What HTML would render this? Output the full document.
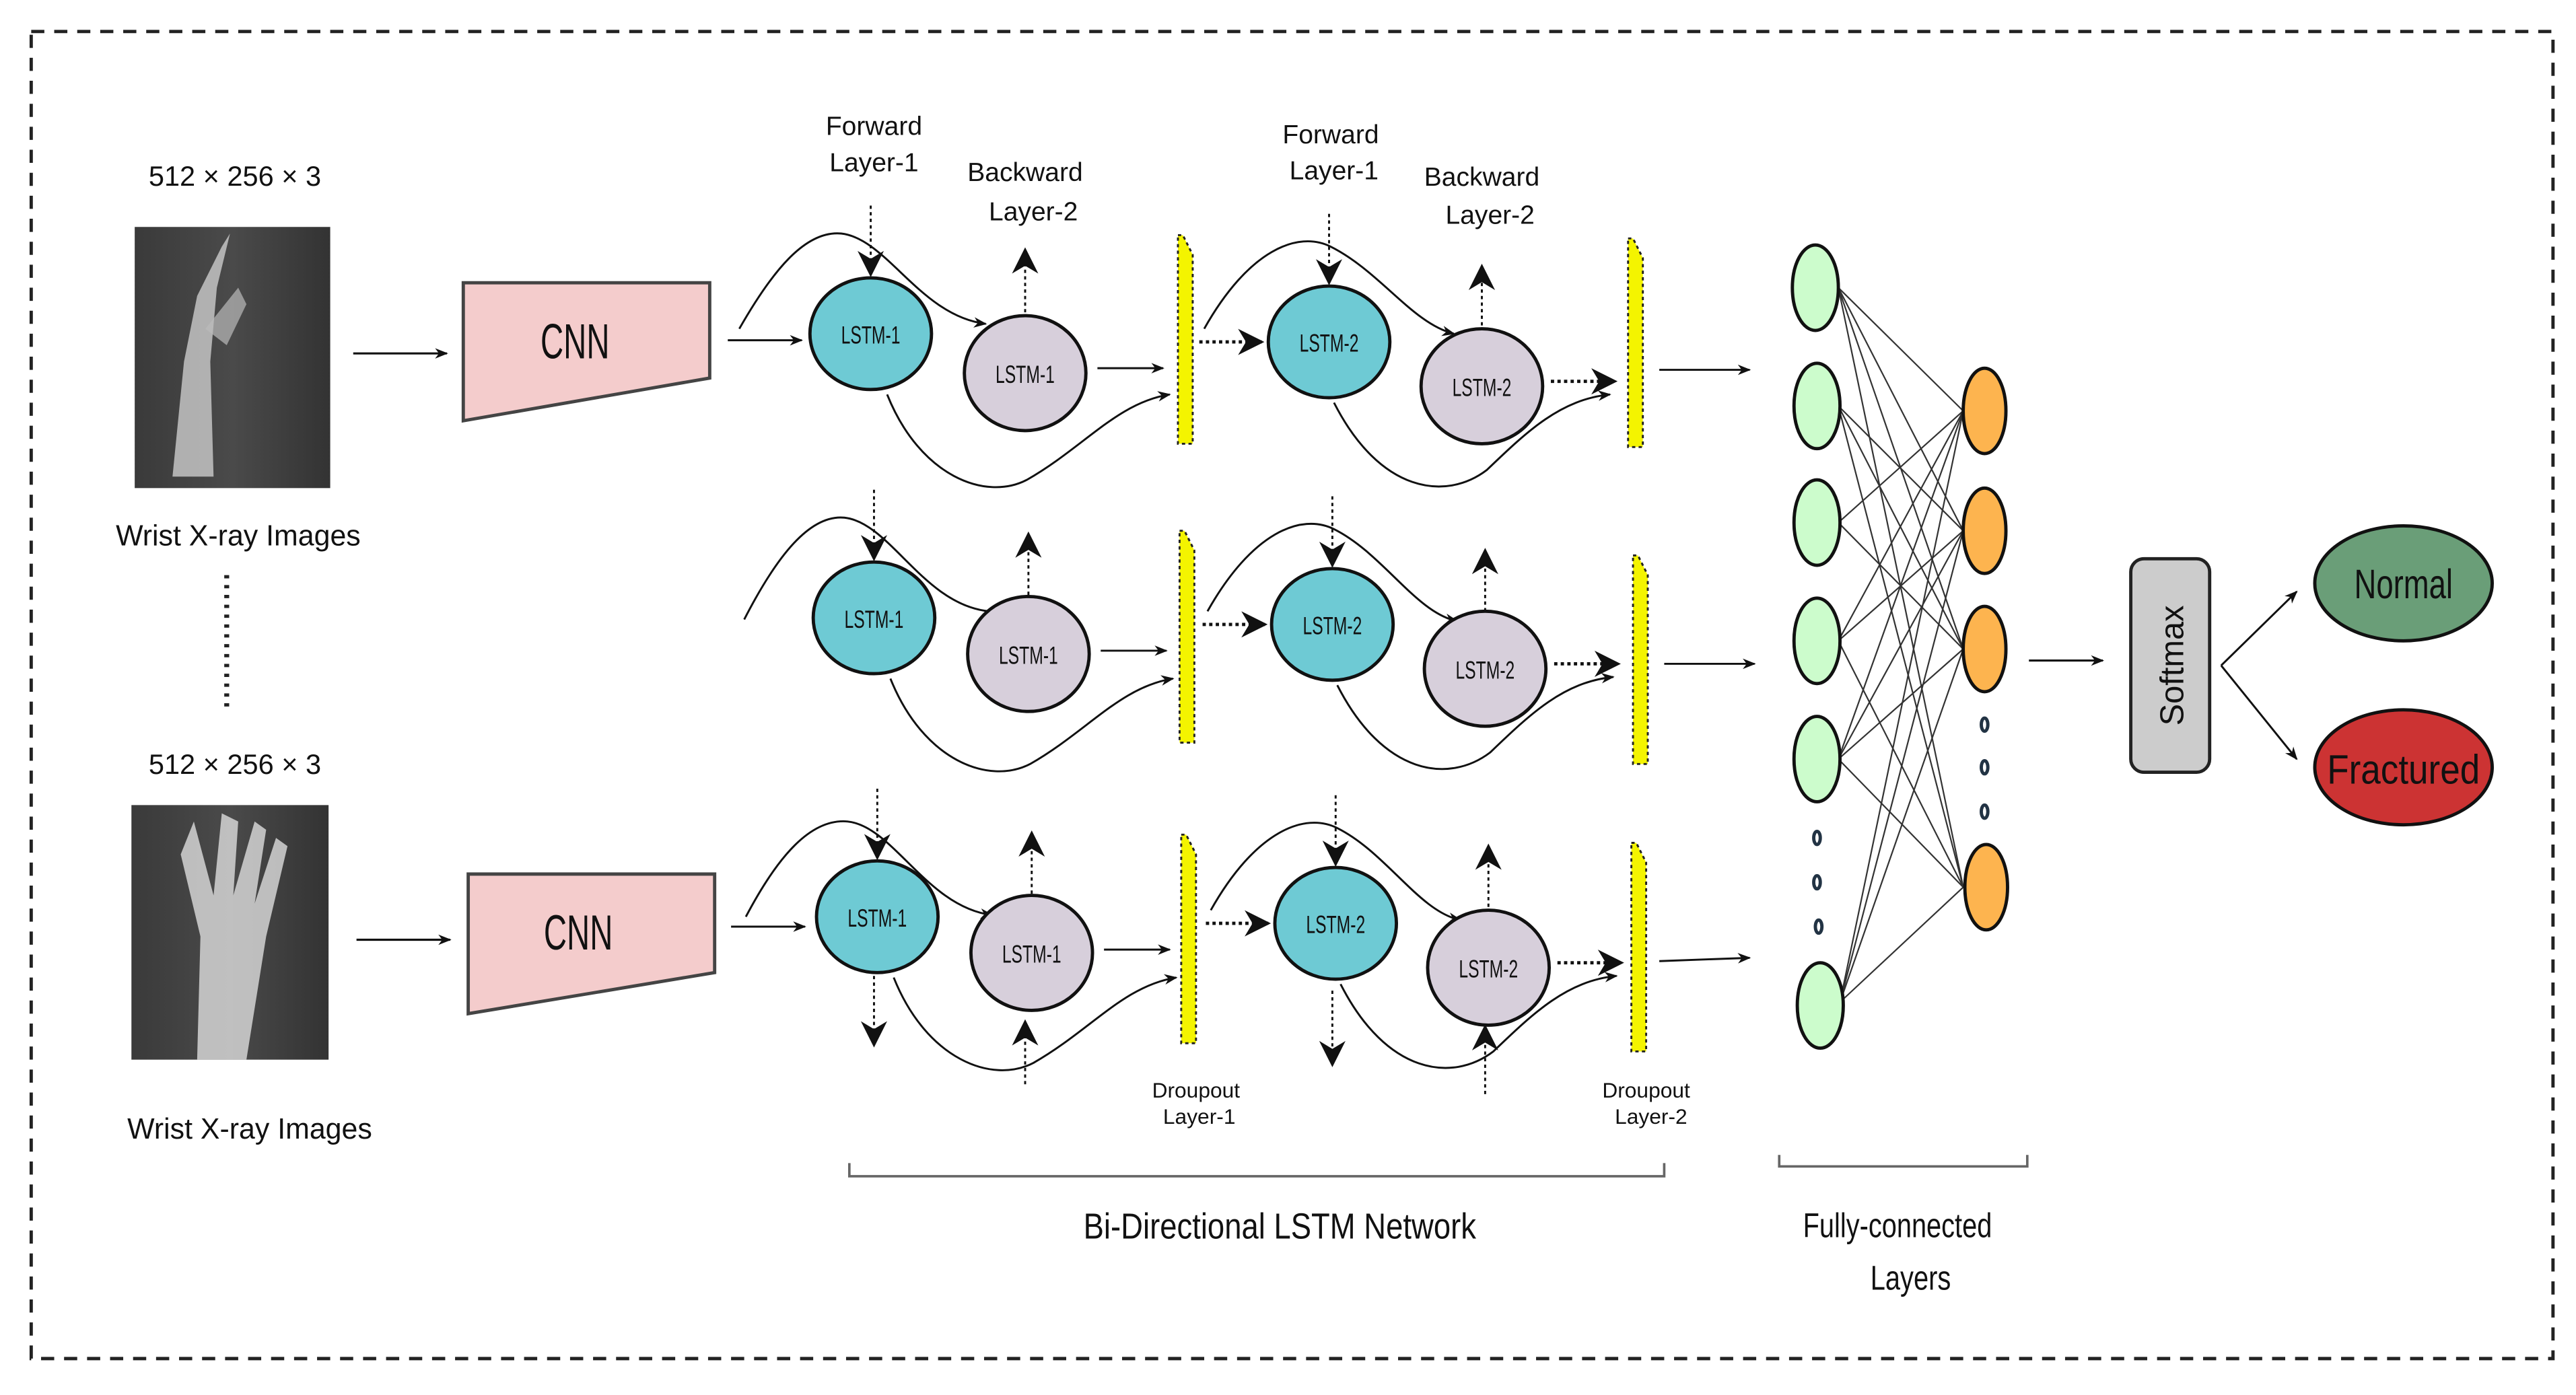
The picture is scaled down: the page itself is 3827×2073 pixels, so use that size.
<!DOCTYPE html>
<html><head><meta charset="utf-8"><style>
html,body{margin:0;padding:0;background:#fff;}
svg{display:block;}
text{font-family:"Liberation Sans",sans-serif;fill:#111;}
</style></head><body>
<svg width="3827" height="2073" viewBox="0 0 1568 849" xmlns="http://www.w3.org/2000/svg">
<defs>
<marker id="a" viewBox="0 0 10 10" refX="9" refY="5" markerWidth="8" markerHeight="8" markerUnits="userSpaceOnUse" orient="auto"><path d="M0,1 L10,5 L0,9 L3,5z" fill="#111"/></marker>
<marker id="b" viewBox="0 0 10 10" refX="9" refY="5" markerWidth="18" markerHeight="16" markerUnits="userSpaceOnUse" orient="auto"><path d="M0,0 L10,5 L0,10 L3,5z" fill="#111"/></marker>
<linearGradient id="xr" x1="0" x2="1"><stop offset="0" stop-color="#3a3a3a"/><stop offset="0.5" stop-color="#4a4a4a"/><stop offset="1" stop-color="#333"/></linearGradient>
</defs>
<rect x="19" y="19" width="1535" height="808" fill="none" stroke="#222" stroke-width="2" stroke-dasharray="8,6"/>

<!-- left column -->
<text x="143" y="113" font-size="17" text-anchor="middle" textLength="105" lengthAdjust="spacingAndGlyphs">512 × 256 × 3</text>
<rect x="82" y="138" width="119" height="159" fill="url(#xr)"/>
<path d="M105,290 L112,220 L120,180 L135,150 L140,142 L132,175 L128,220 L130,290" fill="#ccc" opacity="0.8"/>
<path d="M125,200 L145,175 L150,185 L138,210z" fill="#bbb" opacity="0.7"/>
<text x="145" y="332" font-size="18" text-anchor="middle" textLength="149" lengthAdjust="spacingAndGlyphs">Wrist X-ray Images</text>
<line x1="138" y1="350" x2="138" y2="432" stroke="#222" stroke-width="3" stroke-dasharray="2,4"/>
<text x="143" y="471" font-size="17" text-anchor="middle" textLength="105" lengthAdjust="spacingAndGlyphs">512 × 256 × 3</text>
<rect x="80" y="490" width="120" height="155" fill="url(#xr)"/>
<path d="M120,645 L122,570 L110,520 L118,500 L130,545 L135,495 L145,500 L142,545 L155,500 L162,505 L155,550 L168,510 L175,515 L162,570 L150,645z" fill="#ddd" opacity="0.8"/>
<text x="152" y="693" font-size="18" text-anchor="middle" textLength="149" lengthAdjust="spacingAndGlyphs">Wrist X-ray Images</text>

<!-- CNNs -->
<line x1="215" y1="215" x2="272" y2="215" stroke="#111" stroke-width="1.3" marker-end="url(#a)"/>
<polygon points="282,172 432,172 432,230 282,256" fill="#f4cccc" stroke="#444" stroke-width="2"/>
<text x="350" y="218" font-size="30" text-anchor="middle" textLength="42" lengthAdjust="spacingAndGlyphs">CNN</text>
<line x1="217" y1="572" x2="274" y2="572" stroke="#111" stroke-width="1.3" marker-end="url(#a)"/>
<polygon points="285,532 435,532 435,592 285,617" fill="#f4cccc" stroke="#444" stroke-width="2"/>
<text x="352" y="578" font-size="30" text-anchor="middle" textLength="42" lengthAdjust="spacingAndGlyphs">CNN</text>

<!-- labels top -->
<g font-size="16" text-anchor="middle">
<text x="532" y="82">Forward</text><text x="532" y="104">Layer-1</text>
<text x="624" y="110">Backward</text><text x="629" y="134">Layer-2</text>
<text x="810" y="87">Forward</text><text x="812" y="109">Layer-1</text>
<text x="902" y="113">Backward</text><text x="907" y="136">Layer-2</text>
</g>

<!-- ROW 1 -->
<g id="r1" stroke="#111" fill="none" stroke-width="1.2">
<line x1="443" y1="207" x2="488" y2="207" marker-end="url(#a)"/>
<path d="M450,200 C470,165 490,140 512,142 C540,145 560,192 600,197" marker-end="url(#a)"/>
<path d="M540,240 C560,290 600,305 625,292 C660,272 680,245 712,240" marker-end="url(#a)"/>
<line x1="530" y1="125" x2="530" y2="167" stroke-dasharray="2,2" marker-end="url(#b)"/>
<line x1="624" y1="190" x2="624" y2="152" stroke-dasharray="2,2" marker-end="url(#b)"/>
<line x1="668" y1="224" x2="708" y2="224" marker-end="url(#a)"/>
<line x1="730" y1="208" x2="768" y2="208" stroke-dasharray="2,2" stroke-width="2" marker-end="url(#b)"/>
<path d="M733,200 C760,152 790,140 810,150 C840,165 860,197 885,203" marker-end="url(#a)"/>
<line x1="809" y1="130" x2="809" y2="172" stroke-dasharray="2,2" marker-end="url(#b)"/>
<line x1="902" y1="198" x2="902" y2="162" stroke-dasharray="2,2" marker-end="url(#b)"/>
<line x1="944" y1="232" x2="983" y2="232" stroke-dasharray="2,2" stroke-width="2" marker-end="url(#b)"/>
<path d="M812,245 C840,300 880,305 905,286 C930,262 950,243 980,240" marker-end="url(#a)"/>
<line x1="1010" y1="225" x2="1065" y2="225" marker-end="url(#a)"/>
</g>
<ellipse cx="530" cy="203" rx="37" ry="34" fill="#6ecad4" stroke="#111" stroke-width="2"/>
<ellipse cx="624" cy="227" rx="37" ry="35" fill="#d7cfdb" stroke="#111" stroke-width="2"/>
<ellipse cx="809" cy="208" rx="37" ry="34" fill="#6ecad4" stroke="#111" stroke-width="2"/>
<ellipse cx="902" cy="235" rx="37" ry="35" fill="#d7cfdb" stroke="#111" stroke-width="2"/>
<polygon points="717,143 720,143 726,155 726,270 717,270" fill="#f4f400" stroke="#222" stroke-width="1.2" stroke-dasharray="2,2"/>
<polygon points="991,145 994,145 1000,157 1000,272 991,272" fill="#f4f400" stroke="#222" stroke-width="1.2" stroke-dasharray="2,2"/>
<g font-size="15" text-anchor="middle">
<text x="530" y="209" textLength="36" lengthAdjust="spacingAndGlyphs">LSTM-1</text>
<text x="624" y="233" textLength="36" lengthAdjust="spacingAndGlyphs">LSTM-1</text>
<text x="809" y="214" textLength="36" lengthAdjust="spacingAndGlyphs">LSTM-2</text>
<text x="902" y="241" textLength="36" lengthAdjust="spacingAndGlyphs">LSTM-2</text>
</g>

<!-- ROW 2 -->
<g stroke="#111" fill="none" stroke-width="1.2">
<path d="M453,377 C473,338 493,313 514,315 C542,318 562,368 602,372"/>
<path d="M542,413 C562,463 602,478 627,465 C662,445 682,418 714,413" marker-end="url(#a)"/>
<line x1="532" y1="298" x2="532" y2="340" stroke-dasharray="2,2" marker-end="url(#b)"/>
<line x1="626" y1="362" x2="626" y2="325" stroke-dasharray="2,2" marker-end="url(#b)"/>
<line x1="670" y1="396" x2="710" y2="396" marker-end="url(#a)"/>
<line x1="732" y1="380" x2="770" y2="380" stroke-dasharray="2,2" stroke-width="2" marker-end="url(#b)"/>
<path d="M735,372 C762,324 792,312 812,322 C842,337 862,373 887,378" marker-end="url(#a)"/>
<line x1="811" y1="302" x2="811" y2="344" stroke-dasharray="2,2" marker-end="url(#b)"/>
<line x1="904" y1="372" x2="904" y2="335" stroke-dasharray="2,2" marker-end="url(#b)"/>
<line x1="946" y1="404" x2="985" y2="404" stroke-dasharray="2,2" stroke-width="2" marker-end="url(#b)"/>
<path d="M814,417 C842,472 882,477 907,458 C932,434 952,415 982,412" marker-end="url(#a)"/>
<line x1="1013" y1="404" x2="1068" y2="404" marker-end="url(#a)"/>
</g>
<ellipse cx="532" cy="376" rx="37" ry="34" fill="#6ecad4" stroke="#111" stroke-width="2"/>
<ellipse cx="626" cy="398" rx="37" ry="35" fill="#d7cfdb" stroke="#111" stroke-width="2"/>
<ellipse cx="811" cy="380" rx="37" ry="34" fill="#6ecad4" stroke="#111" stroke-width="2"/>
<ellipse cx="904" cy="407" rx="37" ry="35" fill="#d7cfdb" stroke="#111" stroke-width="2"/>
<polygon points="718,323 721,323 727,335 727,452 718,452" fill="#f4f400" stroke="#222" stroke-width="1.2" stroke-dasharray="2,2"/>
<polygon points="994,338 997,338 1003,350 1003,465 994,465" fill="#f4f400" stroke="#222" stroke-width="1.2" stroke-dasharray="2,2"/>
<g font-size="15" text-anchor="middle">
<text x="532" y="382" textLength="36" lengthAdjust="spacingAndGlyphs">LSTM-1</text>
<text x="626" y="404" textLength="36" lengthAdjust="spacingAndGlyphs">LSTM-1</text>
<text x="811" y="386" textLength="36" lengthAdjust="spacingAndGlyphs">LSTM-2</text>
<text x="904" y="413" textLength="36" lengthAdjust="spacingAndGlyphs">LSTM-2</text>
</g>

<!-- ROW 3 -->
<g stroke="#111" fill="none" stroke-width="1.2">
<line x1="445" y1="564" x2="490" y2="564" marker-end="url(#a)"/>
<path d="M454,558 C474,520 494,498 516,500 C544,503 564,552 604,557" marker-end="url(#a)"/>
<path d="M544,595 C564,645 604,660 629,647 C664,627 684,600 716,595" marker-end="url(#a)"/>
<line x1="534" y1="480" x2="534" y2="522" stroke-dasharray="2,2" marker-end="url(#b)"/>
<line x1="628" y1="544" x2="628" y2="507" stroke-dasharray="2,2" marker-end="url(#b)"/>
<line x1="532" y1="594" x2="532" y2="636" stroke-dasharray="2,2" marker-end="url(#b)"/>
<line x1="624" y1="660" x2="624" y2="622" stroke-dasharray="2,2" marker-end="url(#b)"/>
<line x1="672" y1="578" x2="712" y2="578" marker-end="url(#a)"/>
<line x1="734" y1="562" x2="772" y2="562" stroke-dasharray="2,2" stroke-width="2" marker-end="url(#b)"/>
<path d="M737,554 C764,506 794,494 814,504 C844,519 864,555 889,560" marker-end="url(#a)"/>
<line x1="813" y1="484" x2="813" y2="526" stroke-dasharray="2,2" marker-end="url(#b)"/>
<line x1="906" y1="552" x2="906" y2="515" stroke-dasharray="2,2" marker-end="url(#b)"/>
<line x1="811" y1="603" x2="811" y2="648" stroke-dasharray="2,2" marker-end="url(#b)"/>
<line x1="904" y1="666" x2="904" y2="625" stroke-dasharray="2,2" marker-end="url(#b)"/>
<line x1="948" y1="586" x2="987" y2="586" stroke-dasharray="2,2" stroke-width="2" marker-end="url(#b)"/>
<path d="M816,599 C844,654 884,659 909,640 C934,616 954,597 984,594" marker-end="url(#a)"/>
<line x1="1010" y1="585" x2="1065" y2="583" marker-end="url(#a)"/>
</g>
<ellipse cx="534" cy="558" rx="37" ry="34" fill="#6ecad4" stroke="#111" stroke-width="2"/>
<ellipse cx="628" cy="580" rx="37" ry="35" fill="#d7cfdb" stroke="#111" stroke-width="2"/>
<ellipse cx="813" cy="562" rx="37" ry="34" fill="#6ecad4" stroke="#111" stroke-width="2"/>
<ellipse cx="906" cy="589" rx="37" ry="35" fill="#d7cfdb" stroke="#111" stroke-width="2"/>
<polygon points="719,508 722,508 728,520 728,635 719,635" fill="#f4f400" stroke="#222" stroke-width="1.2" stroke-dasharray="2,2"/>
<polygon points="993,513 996,513 1002,525 1002,640 993,640" fill="#f4f400" stroke="#222" stroke-width="1.2" stroke-dasharray="2,2"/>
<g font-size="15" text-anchor="middle">
<text x="534" y="564" textLength="36" lengthAdjust="spacingAndGlyphs">LSTM-1</text>
<text x="628" y="586" textLength="36" lengthAdjust="spacingAndGlyphs">LSTM-1</text>
<text x="813" y="568" textLength="36" lengthAdjust="spacingAndGlyphs">LSTM-2</text>
<text x="906" y="595" textLength="36" lengthAdjust="spacingAndGlyphs">LSTM-2</text>
</g>

<!-- dropout labels and bracket -->
<g font-size="13" text-anchor="middle">
<text x="728" y="668">Droupout</text><text x="730" y="684">Layer-1</text>
<text x="1002" y="668">Droupout</text><text x="1005" y="684">Layer-2</text>
</g>
<path d="M517,708 L517,716 L1013,716 L1013,708" fill="none" stroke="#666" stroke-width="1.5"/>
<text x="779" y="754" font-size="22" text-anchor="middle" textLength="239" lengthAdjust="spacingAndGlyphs">Bi-Directional LSTM Network</text>
<path d="M1083,703 L1083,710 L1234,710 L1234,703" fill="none" stroke="#666" stroke-width="1.5"/>
<text x="1155" y="753" font-size="21" text-anchor="middle" textLength="115" lengthAdjust="spacingAndGlyphs">Fully-connected</text>
<text x="1163" y="785" font-size="21" text-anchor="middle" textLength="49" lengthAdjust="spacingAndGlyphs">Layers</text>

<!-- FC connections -->
<g stroke="#333" stroke-width="0.9">
<line x1="1119" y1="175" x2="1195" y2="250"/><line x1="1119" y1="175" x2="1195" y2="323"/><line x1="1119" y1="175" x2="1195" y2="395"/><line x1="1119" y1="175" x2="1195" y2="540"/>
<line x1="1119" y1="247" x2="1195" y2="323"/><line x1="1119" y1="247" x2="1195" y2="395"/><line x1="1119" y1="247" x2="1195" y2="540"/>
<line x1="1119" y1="318" x2="1195" y2="250"/><line x1="1119" y1="318" x2="1195" y2="395"/>
<line x1="1119" y1="390" x2="1195" y2="250"/><line x1="1119" y1="390" x2="1195" y2="323"/><line x1="1119" y1="390" x2="1195" y2="540"/>
<line x1="1119" y1="462" x2="1195" y2="250"/><line x1="1119" y1="462" x2="1195" y2="323"/><line x1="1119" y1="462" x2="1195" y2="395"/><line x1="1119" y1="462" x2="1195" y2="540"/>
<line x1="1120" y1="610" x2="1195" y2="250"/><line x1="1120" y1="610" x2="1195" y2="323"/><line x1="1120" y1="610" x2="1195" y2="395"/><line x1="1120" y1="610" x2="1195" y2="540"/>
</g>
<g fill="#ccfccc" stroke="#111" stroke-width="2">
<ellipse cx="1105" cy="175" rx="14" ry="26"/><ellipse cx="1106" cy="247" rx="14" ry="26"/><ellipse cx="1106" cy="318" rx="14" ry="26"/>
<ellipse cx="1106" cy="390" rx="14" ry="26"/><ellipse cx="1106" cy="462" rx="14" ry="26"/><ellipse cx="1108" cy="612" rx="14" ry="26"/>
</g>
<g fill="#fdb44f" stroke="#111" stroke-width="2">
<ellipse cx="1208" cy="250" rx="13" ry="26"/><ellipse cx="1208" cy="323" rx="13" ry="26"/><ellipse cx="1208" cy="395" rx="13" ry="26"/><ellipse cx="1209" cy="540" rx="13" ry="26"/>
</g>
<g fill="none" stroke="#234" stroke-width="2">
<ellipse cx="1106" cy="510" rx="2" ry="4"/><ellipse cx="1106" cy="537" rx="2" ry="4"/><ellipse cx="1107" cy="564" rx="2" ry="4"/>
<ellipse cx="1208" cy="441" rx="2" ry="4"/><ellipse cx="1208" cy="467" rx="2" ry="4"/><ellipse cx="1208" cy="494" rx="2" ry="4"/>
</g>

<!-- softmax / outputs -->
<line x1="1235" y1="402" x2="1280" y2="402" stroke="#111" stroke-width="1.3" marker-end="url(#a)"/>
<rect x="1297" y="340" width="48" height="130" rx="8" fill="#ccc" stroke="#222" stroke-width="2"/>
<text x="0" y="0" font-size="20" text-anchor="middle" fill="#222" transform="translate(1329,405) rotate(-90)">Softmax</text>
<line x1="1352" y1="405" x2="1398" y2="360" stroke="#111" stroke-width="1.2" marker-end="url(#a)"/>
<line x1="1352" y1="405" x2="1398" y2="462" stroke="#111" stroke-width="1.2" marker-end="url(#a)"/>
<ellipse cx="1463" cy="355" rx="54" ry="35" fill="#6a9e78" stroke="#111" stroke-width="2"/>
<text x="1463" y="364" font-size="25" text-anchor="middle" textLength="60" lengthAdjust="spacingAndGlyphs">Normal</text>
<ellipse cx="1463" cy="467" rx="54" ry="35" fill="#cc3333" stroke="#111" stroke-width="2"/>
<text x="1463" y="477" font-size="25" text-anchor="middle" textLength="93" lengthAdjust="spacingAndGlyphs">Fractured</text>
</svg>
</body></html>
